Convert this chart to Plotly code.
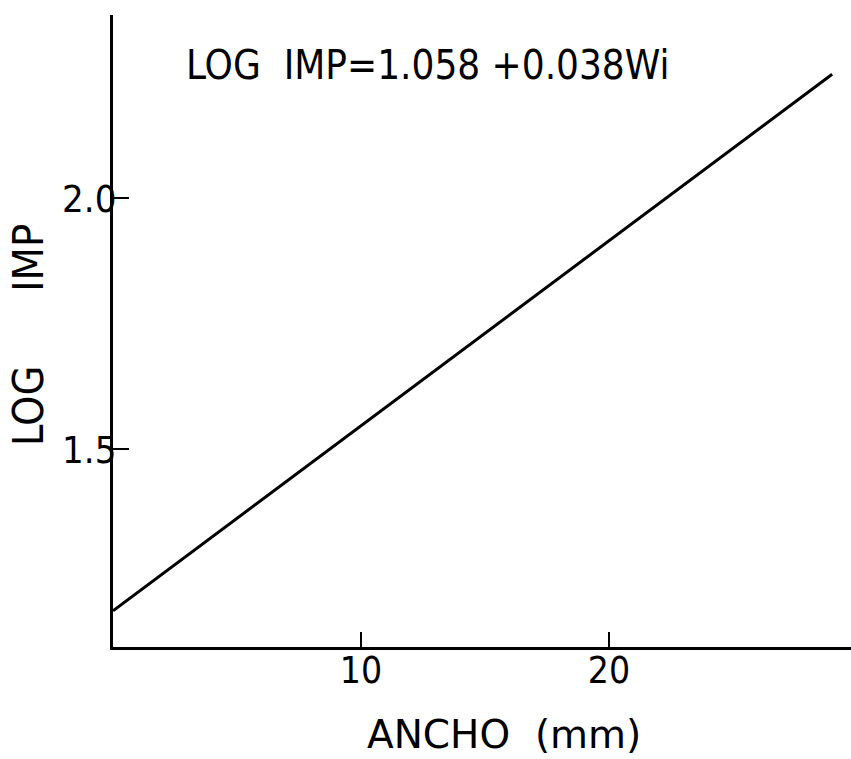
import plotly.graph_objects as go

# Data
ancho = [0.0, 29.0]
log_imp = [1.178, 2.247]
x_ticks = [10, 20]
y_ticks = [1.5, 2.0]
y_tick_labels = ["1.5", "2.0"]
equation = "LOG  IMP=1.058 +0.038Wi"

FONT = "DejaVu Sans Condensed, Liberation Sans Narrow, DejaVu Sans"
FONT_WIDE = "DejaVu Sans"

W, H = 851, 759
L, R, T, B = 113, 0, 15, 112
pw, ph = W - L - R, H - T - B

def px(x):
    return (x - L) / pw

def py(y):
    return (H - B - y) / ph

fig = go.Figure()
fig.add_trace(go.Scatter(x=ancho, y=log_imp, mode="lines",
                         line=dict(color="black", width=3), showlegend=False,
                         cliponaxis=False))

fig.update_layout(
    width=W, height=H,
    margin=dict(l=L, r=R, t=T, b=B),
    paper_bgcolor="white", plot_bgcolor="white",
    font=dict(family=FONT, color="black"),
    xaxis=dict(range=[0, 29.76], tickvals=x_ticks, ticks="inside", ticklen=15,
               tickwidth=2, tickcolor="black", showline=True, linecolor="black",
               linewidth=3, showgrid=False, zeroline=False, ticklabelstandoff=-11,
               tickfont=dict(size=37, family=FONT)),
    yaxis=dict(range=[1.106, 2.365], tickvals=y_ticks, ticktext=y_tick_labels,
               ticks="inside", ticklen=16, tickwidth=2, tickcolor="black",
               showline=True, linecolor="black", linewidth=3, showgrid=False,
               zeroline=False, ticklabelstandoff=-14,
               tickfont=dict(size=38, family=FONT)),
    annotations=[
        dict(text=equation, xref="paper", yref="paper", x=px(427), y=py(65),
             showarrow=False, font=dict(size=40, family=FONT), xanchor="center",
             yanchor="middle"),
        dict(text="ANCHO  (mm)", xref="paper", yref="paper", x=px(504), y=py(734),
             showarrow=False, font=dict(size=39, family=FONT_WIDE), xanchor="center",
             yanchor="middle"),
        dict(text="LOG      IMP", xref="paper", yref="paper", x=px(28), y=py(335),
             showarrow=False, textangle=-90, font=dict(size=43, family=FONT),
             xanchor="center", yanchor="middle"),
    ],
)

fig.write_html("out.html")
